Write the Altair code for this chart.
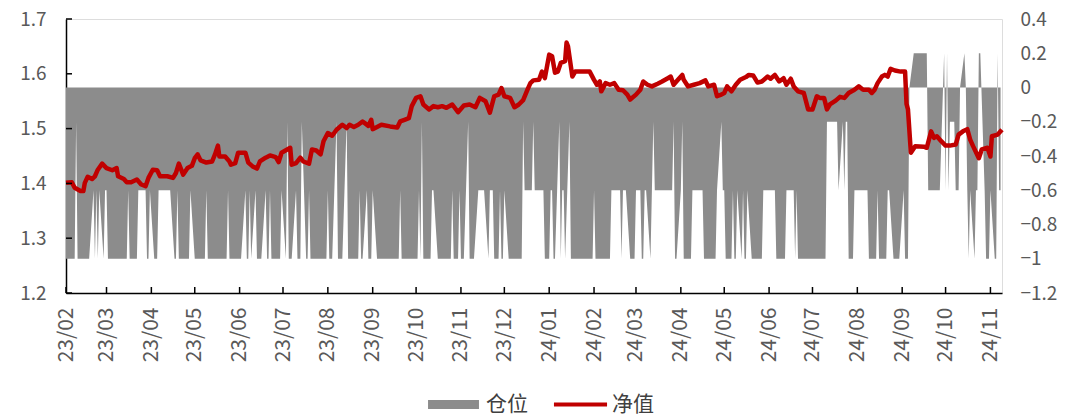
import altair as alt
import pandas as pd

# ---- position (仓位): value changes (date the value starts, value) ----
pos_change_dates = [
    "2023-02-01", "2023-02-08", "2023-02-09", "2023-02-20", "2023-02-21", "2023-02-22", "2023-02-23",
    "2023-02-24", "2023-02-27", "2023-02-28", "2023-03-02", "2023-03-16", "2023-03-17", "2023-03-23",
    "2023-03-29", "2023-03-31", "2023-04-03", "2023-04-06", "2023-04-17", "2023-04-19", "2023-04-20",
    "2023-04-28", "2023-05-01", "2023-05-09", "2023-05-10", "2023-05-24", "2023-05-25", "2023-06-05",
    "2023-06-06", "2023-06-08", "2023-06-09", "2023-06-12", "2023-06-13", "2023-06-19", "2023-06-20",
    "2023-06-22", "2023-06-23", "2023-06-30", "2023-07-03", "2023-07-04", "2023-07-05", "2023-07-10",
    "2023-07-11", "2023-07-14", "2023-07-17", "2023-07-19", "2023-07-20", "2023-08-01", "2023-08-02",
    "2023-08-07", "2023-08-08", "2023-08-14", "2023-08-15", "2023-08-23", "2023-08-24", "2023-08-28",
    "2023-08-29", "2023-09-01", "2023-09-04", "2023-09-20", "2023-09-21", "2023-10-03", "2023-10-04",
    "2023-10-05", "2023-10-06", "2023-10-12", "2023-10-16", "2023-10-26", "2023-10-27", "2023-10-31",
    "2023-11-01", "2023-11-06", "2023-11-07", "2023-11-13", "2023-11-20", "2023-11-21", "2023-11-24",
    "2023-11-28", "2023-11-29", "2023-12-01", "2023-12-04", "2023-12-14", "2023-12-15", "2023-12-21",
    "2023-12-22", "2023-12-29", "2024-01-02", "2024-01-04", "2024-01-08", "2024-01-09", "2024-01-10",
    "2024-01-12", "2024-01-15", "2024-01-16", "2024-02-01", "2024-02-02", "2024-02-13", "2024-02-20",
    "2024-02-21", "2024-02-26", "2024-03-01", "2024-03-05", "2024-03-07", "2024-03-11", "2024-03-12",
    "2024-03-13", "2024-03-14", "2024-03-27", "2024-03-28", "2024-04-01", "2024-04-02", "2024-04-03",
    "2024-04-09", "2024-04-17", "2024-04-26", "2024-04-29", "2024-04-30", "2024-05-02", "2024-05-07",
    "2024-05-08", "2024-05-10", "2024-05-13", "2024-05-14", "2024-05-15", "2024-05-17", "2024-05-20",
    "2024-05-28", "2024-06-06", "2024-06-13", "2024-06-19", "2024-06-20", "2024-06-21", "2024-07-11",
    "2024-07-19", "2024-07-22", "2024-07-23", "2024-07-24", "2024-07-26", "2024-07-30", "2024-08-09",
    "2024-08-15", "2024-08-16", "2024-08-22", "2024-08-26", "2024-09-02", "2024-09-03", "2024-09-06",
    "2024-09-09", "2024-09-19", "2024-09-30", "2024-10-01", "2024-10-02", "2024-10-03", "2024-10-04",
    "2024-10-08", "2024-10-11", "2024-10-14", "2024-10-15", "2024-10-16", "2024-10-17", "2024-10-18",
    "2024-10-21", "2024-10-22", "2024-10-24", "2024-10-28", "2024-10-29", "2024-11-01", "2024-11-04",
    "2024-11-06", "2024-11-07",
]
pos_change_values = [
    -1, -0.2, -1, -0.6, -1, -0.6, -1,
    -0.6, -1, -0.6, -1, -0.6, -1, -0.6,
    -1, -0.6, -1, -0.6, -1, -0.6, -1,
    -0.6, -1, -0.6, -1, -0.6, -1, -0.6,
    -1, -0.6, -1, -0.6, -1, -0.6, -1,
    -0.6, -1, -0.6, -1, -0.2, -1, -0.6,
    -1, -0.2, -1, -0.6, -1, -0.6, -1,
    -0.2, -1, -0.2, -1, -0.6, -1, -0.6,
    -1, -0.6, -1, -0.6, -1, -0.6, -1,
    -0.2, -1, -0.6, -1, -0.6, -1, -0.6,
    -1, -0.2, -1, -0.6, -1, -0.6, -1,
    -0.6, -1, -0.6, -1, -0.2, -0.6, -0.2,
    -0.6, -1, -0.6, -1, -0.2, -1, -0.6,
    -1, -0.2, -1, -0.6, -1, -0.6, -1,
    -0.6, -1, -0.6, -1, -0.6, -1, -0.6,
    -0.2, -0.6, -0.2, -1, -0.6, -0.2, -1,
    -0.6, -1, -0.6, -0.2, -0.6, -1, -0.6,
    -1, -0.6, -1, -0.6, -1, -0.6, -1,
    -0.6, -1, -0.6, -1, -0.6, -1, -0.2,
    -0.6, -0.2, -0.6, -0.2, -1, -0.6, -1,
    -0.6, -1, -0.6, -1, -0.6, -1, 0,
    0.2, -0.6, 0.2, -0.6, 0.2, -0.6, -0.2,
    -0.6, 0, 0.2, 0, -0.6, -1, -0.6,
    -1, -0.6, 0.2, -0.6, -1, -0.6, -1,
    0.2, -0.6,
]

# ---- net value (净值) ----
nav_dates = [
    "2023-02-01", "2023-02-05", "2023-02-07", "2023-02-11", "2023-02-13", "2023-02-14", "2023-02-16",
    "2023-02-19", "2023-02-21", "2023-02-23", "2023-02-26", "2023-03-01", "2023-03-05", "2023-03-08",
    "2023-03-09", "2023-03-13", "2023-03-15", "2023-03-18", "2023-03-22", "2023-03-25", "2023-03-28",
    "2023-03-30", "2023-04-02", "2023-04-05", "2023-04-07", "2023-04-12", "2023-04-16", "2023-04-18",
    "2023-04-20", "2023-04-23", "2023-04-26", "2023-04-29", "2023-05-01", "2023-05-03", "2023-05-05",
    "2023-05-09", "2023-05-13", "2023-05-15", "2023-05-17", "2023-05-18", "2023-05-22", "2023-05-25",
    "2023-05-26", "2023-05-29", "2023-05-31", "2023-06-05", "2023-06-07", "2023-06-10", "2023-06-13",
    "2023-06-15", "2023-06-19", "2023-06-22", "2023-06-26", "2023-06-28", "2023-06-30", "2023-07-06",
    "2023-07-07", "2023-07-10", "2023-07-13", "2023-07-15", "2023-07-19", "2023-07-21", "2023-07-24",
    "2023-07-27", "2023-07-29", "2023-08-01", "2023-08-04", "2023-08-07", "2023-08-11", "2023-08-14",
    "2023-08-16", "2023-08-19", "2023-08-22", "2023-08-25", "2023-08-27", "2023-08-29", "2023-08-31",
    "2023-09-01", "2023-09-04", "2023-09-07", "2023-09-13", "2023-09-18", "2023-09-20", "2023-09-23",
    "2023-09-26", "2023-09-28", "2023-10-01", "2023-10-04", "2023-10-06", "2023-10-10", "2023-10-13",
    "2023-10-16", "2023-10-19", "2023-10-22", "2023-10-26", "2023-10-30", "2023-11-03", "2023-11-07",
    "2023-11-11", "2023-11-14", "2023-11-18", "2023-11-21", "2023-11-24", "2023-11-27", "2023-11-29",
    "2023-12-01", "2023-12-05", "2023-12-08", "2023-12-11", "2023-12-14", "2023-12-17", "2023-12-19",
    "2023-12-21", "2023-12-25", "2023-12-27", "2023-12-29", "2024-01-01", "2024-01-03", "2024-01-05",
    "2024-01-07", "2024-01-09", "2024-01-12", "2024-01-13", "2024-01-14", "2024-01-17", "2024-01-19",
    "2024-01-22", "2024-01-29", "2024-02-01", "2024-02-03", "2024-02-05", "2024-02-06", "2024-02-09",
    "2024-02-12", "2024-02-15", "2024-02-18", "2024-02-21", "2024-02-24", "2024-02-26", "2024-03-01",
    "2024-03-04", "2024-03-06", "2024-03-09", "2024-03-12", "2024-03-16", "2024-03-19", "2024-03-23",
    "2024-03-25", "2024-03-27", "2024-03-30", "2024-04-02", "2024-04-03", "2024-04-06", "2024-04-10",
    "2024-04-14", "2024-04-18", "2024-04-20", "2024-04-24", "2024-04-26", "2024-04-29", "2024-05-01",
    "2024-05-03", "2024-05-06", "2024-05-09", "2024-05-12", "2024-05-16", "2024-05-18", "2024-05-21",
    "2024-05-24", "2024-05-27", "2024-05-31", "2024-06-02", "2024-06-05", "2024-06-08", "2024-06-11",
    "2024-06-13", "2024-06-16", "2024-06-18", "2024-06-21", "2024-06-25", "2024-06-28", "2024-07-01",
    "2024-07-04", "2024-07-06", "2024-07-09", "2024-07-11", "2024-07-13", "2024-07-17", "2024-07-20",
    "2024-07-23", "2024-07-26", "2024-07-30", "2024-08-02", "2024-08-05", "2024-08-09", "2024-08-11",
    "2024-08-13", "2024-08-15", "2024-08-18", "2024-08-20", "2024-08-22", "2024-08-24", "2024-08-27",
    "2024-08-31", "2024-09-03", "2024-09-04", "2024-09-05", "2024-09-07", "2024-09-10", "2024-09-16",
    "2024-09-18", "2024-09-21", "2024-09-23", "2024-09-25", "2024-09-28", "2024-10-01", "2024-10-04",
    "2024-10-08", "2024-10-10", "2024-10-13", "2024-10-16", "2024-10-18", "2024-10-20", "2024-10-24",
    "2024-10-26", "2024-10-30", "2024-11-01", "2024-11-02", "2024-11-06", "2024-11-08", "2024-11-09",
]
nav_values = [
    1.401, 1.402, 1.392, 1.386, 1.386, 1.401, 1.412,
    1.408, 1.413, 1.425, 1.436, 1.428, 1.424, 1.428,
    1.413, 1.408, 1.402, 1.402, 1.407, 1.398, 1.395,
    1.410, 1.425, 1.424, 1.413, 1.413, 1.410, 1.419,
    1.436, 1.416, 1.428, 1.432, 1.446, 1.453, 1.442,
    1.438, 1.440, 1.453, 1.469, 1.449, 1.449, 1.440,
    1.434, 1.437, 1.456, 1.456, 1.438, 1.431, 1.427,
    1.440, 1.447, 1.451, 1.448, 1.439, 1.456, 1.465,
    1.434, 1.437, 1.447, 1.440, 1.436, 1.462, 1.460,
    1.453, 1.477, 1.492, 1.487, 1.498, 1.507, 1.501,
    1.507, 1.503, 1.507, 1.513, 1.509, 1.505, 1.516,
    1.499, 1.503, 1.507, 1.504, 1.502, 1.513, 1.516,
    1.519, 1.541, 1.556, 1.559, 1.544, 1.535, 1.541,
    1.539, 1.541, 1.538, 1.544, 1.530, 1.542, 1.544,
    1.539, 1.556, 1.550, 1.529, 1.559, 1.562, 1.574,
    1.559, 1.556, 1.539, 1.544, 1.552, 1.571, 1.583,
    1.588, 1.589, 1.604, 1.592, 1.635, 1.632, 1.602,
    1.604, 1.620, 1.623, 1.657, 1.650, 1.595, 1.604,
    1.604, 1.604, 1.589, 1.580, 1.586, 1.568, 1.583,
    1.580, 1.583, 1.571, 1.570, 1.562, 1.553, 1.562,
    1.571, 1.586, 1.580, 1.577, 1.582, 1.586, 1.592,
    1.595, 1.580, 1.589, 1.598, 1.589, 1.577, 1.580,
    1.583, 1.588, 1.577, 1.580, 1.559, 1.562, 1.565,
    1.577, 1.568, 1.580, 1.589, 1.594, 1.598, 1.597,
    1.584, 1.586, 1.595, 1.591, 1.598, 1.586, 1.592,
    1.580, 1.591, 1.577, 1.568, 1.565, 1.535, 1.535,
    1.559, 1.556, 1.556, 1.535, 1.544, 1.551, 1.558,
    1.556, 1.565, 1.571, 1.577, 1.571, 1.571, 1.565,
    1.571, 1.583, 1.595, 1.598, 1.595, 1.609, 1.606,
    1.604, 1.604, 1.545, 1.535, 1.456, 1.468, 1.467,
    1.465, 1.495, 1.483, 1.486, 1.477, 1.469, 1.469,
    1.471, 1.489, 1.495, 1.499, 1.480, 1.468, 1.446,
    1.462, 1.465, 1.449, 1.486, 1.489, 1.495, 1.498,
]

month_ticks = [
    "2023-02-01", "2023-03-01", "2023-04-01", "2023-05-01", "2023-06-01", "2023-07-01",
    "2023-08-01", "2023-09-01", "2023-10-01", "2023-11-01", "2023-12-01", "2024-01-01",
    "2024-02-01", "2024-03-01", "2024-04-01", "2024-05-01", "2024-06-01", "2024-07-01",
    "2024-08-01", "2024-09-01", "2024-10-01", "2024-11-01",
]
left_ticks = [1.2, 1.3, 1.4, 1.5, 1.6, 1.7]
right_ticks = [0.4, 0.2, 0, -0.2, -0.4, -0.6, -0.8, -1, -1.2]
x_start, x_end = "2023-02-01", "2024-11-09"

# ---- tables ----
days = pd.bdate_range("2023-02-01", "2024-11-08")
runs = pd.Series(pos_change_values, index=pd.to_datetime(pos_change_dates))
pos = runs.reindex(days, method="ffill")
df_pos = pd.DataFrame({"date": days.strftime("%Y-%m-%d"), "pos": pos.values, "series": "仓位"})
df_nav = pd.DataFrame({"date": nav_dates, "nav": nav_values, "series": "净值"})
df_mt = pd.DataFrame({"date": month_ticks})
df_lt = pd.DataFrame({"v": left_ticks})


def ms(s):
    return int(pd.Timestamp(s, tz="UTC").value // 10**6)


FONT = "Noto Sans CJK SC"
LABEL = "#595959"
xscale = alt.Scale(type="utc", domain=[ms(x_start), ms(x_end)])
lscale = alt.Scale(domain=[1.2, 1.7], nice=False, zero=False)
rscale = alt.Scale(domain=[-1.2, 0.4], nice=False)

area = alt.Chart(df_pos).mark_area(interpolate="linear").encode(
    x=alt.X("date:T", scale=xscale, title=None,
            axis=alt.Axis(values=[ms(t) for t in month_ticks],
                          labelExpr="utcFormat(datum.value, '%y/%m')",
                          labelAngle=-90, ticks=False, grid=False, domainColor="#000000",
                          domainWidth=1.5, labelPadding=14, labelFontSize=21, labelColor=LABEL,
                          labelFont=FONT, labelOverlap=False, labelFlush=False)),
    y=alt.Y("pos:Q", scale=rscale, title=None,
            axis=alt.Axis(orient="right", values=right_ticks, format=".1~f", ticks=False,
                          domain=False, grid=False, labelPadding=18, labelFontSize=19,
                          labelColor=LABEL, labelFont=FONT, labelFlush=False)),
    fill=alt.Fill("series:N", scale=alt.Scale(domain=["仓位"], range=["#8c8c8c"]),
                  legend=alt.Legend(orient="none", legendX=377, legendY=375, title=None,
                                    symbolType="M-2.83,-0.5H2.83V0.5H-2.83Z", symbolSize=324,
                                    symbolStrokeWidth=0, labelOffset=22, labelFontSize=21,
                                    labelColor="#404040", labelFont=FONT, padding=0)),
)

line = alt.Chart(df_nav).mark_line(strokeWidth=4.5, strokeJoin="round", interpolate="linear").encode(
    x=alt.X("date:T", scale=xscale, title=None),
    y=alt.Y("nav:Q", scale=lscale, title=None,
            axis=alt.Axis(orient="left", values=left_ticks, format=".1f", ticks=False, grid=False,
                          domainColor="#000000", domainWidth=1.5, labelPadding=20,
                          labelFontSize=19, labelColor=LABEL, labelFont=FONT, labelFlush=False)),
    stroke=alt.Stroke("series:N", scale=alt.Scale(domain=["净值"], range=["#c00000"]),
                      legend=alt.Legend(orient="none", legendX=504, legendY=375, title=None,
                                        symbolType="M-5.9,0H5.9", symbolSize=81,
                                        symbolStrokeWidth=4, labelOffset=21, labelFontSize=21,
                                        labelColor="#404040", labelFont=FONT, padding=0)),
)

yticks = alt.Chart(df_lt).mark_rule(color="#000000", strokeWidth=1.5).encode(
    y=alt.Y("v:Q", scale=lscale, axis=None),
    x=alt.value(0), x2=alt.value(6),
)

xticks = alt.Chart(df_mt).mark_rule(color="#000000", strokeWidth=1.5).encode(
    x=alt.X("date:T", scale=xscale, title=None),
    y=alt.value(274), y2=alt.value(268),
)

chart = alt.layer(area, line, yticks, xticks).resolve_scale(y="independent").properties(
    width=936, height=274,
    autosize=alt.AutoSizeParams(type="none"),
    padding={"left": 58, "top": 11, "right": 61, "bottom": 122},
).configure_view(stroke=None).configure(font=FONT)

chart.save("out.html", embed_options={"renderer": "svg", "actions": False})
